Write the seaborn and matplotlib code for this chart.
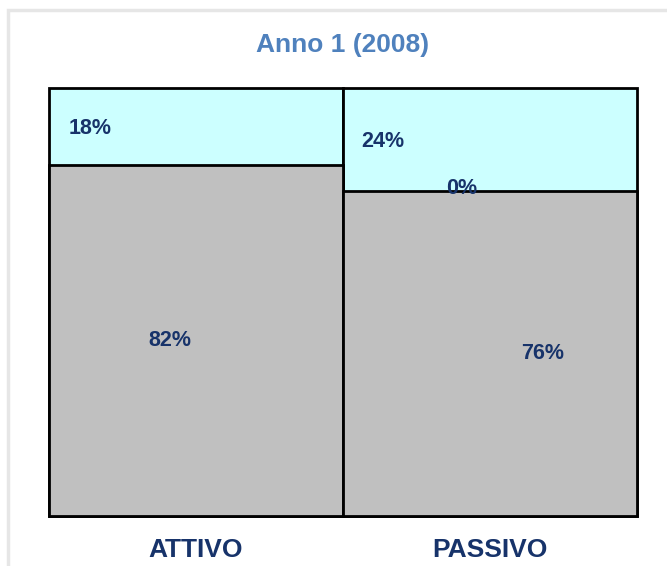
import matplotlib
matplotlib.use("Agg")
import matplotlib.pyplot as plt
import seaborn as sns
import pandas as pd
from matplotlib.patches import Rectangle

categories = ["ATTIVO", "PASSIVO"]
bottom_vals = [82, 76]      # grey segment
middle_vals = [0, 0]        # zero segment (only labelled on PASSIVO)
top_vals = [18, 24]         # light cyan segment
title = "Anno 1 (2008)"

sns.set_theme(style="white")
plt.rcParams['font.family'] = ['Liberation Sans', 'DejaVu Sans']

navy = "#17336A"
fig = plt.figure(figsize=(6.67, 5.66), dpi=100)
ax = fig.add_axes([49/667, 1-516/566, (637-49)/667, (516-88)/566])

df = pd.DataFrame({
    "cat": categories,
    "bottom": bottom_vals,
    "mid": [b + m for b, m in zip(bottom_vals, middle_vals)],
    "total": [b + m + t for b, m, t in zip(bottom_vals, middle_vals, top_vals)],
})

sns.barplot(data=df, x="cat", y="total", color="#CCFFFF", width=1.0,
            edgecolor="black", linewidth=2.0, saturation=1, ax=ax)
sns.barplot(data=df, x="cat", y="bottom", color="#C0C0C0", width=1.0,
            edgecolor="black", linewidth=2.0, saturation=1, ax=ax)
for p in ax.patches:
    p.set_clip_on(False)

ax.set_xlim(-0.5, 1.5)
ax.set_ylim(0, 100)
for s in ax.spines.values():
    s.set_visible(False)
ax.set_yticks([])
ax.set_xlabel("")
ax.set_ylabel("")
ax.tick_params(axis="x", length=0, pad=16)
for lab in ax.get_xticklabels():
    lab.set_fontsize(19)
    lab.set_fontweight("bold")
    lab.set_color(navy)

# data labels
label_offsets = {
    "bottom": [-0.09, 1.18 - 1],
    "mid": [None, 0.905 - 1],
    "top": [-0.36, 0.636 - 1],
}
for i in range(len(categories)):
    b, m, t = bottom_vals[i], middle_vals[i], top_vals[i]
    kw = dict(ha="center", va="center", fontsize=15.5, fontweight="bold", color=navy)
    ax.text(i + label_offsets["bottom"][i], b / 2, f"{b}%", **kw)
    ax.text(i + label_offsets["top"][i], b + m + t / 2 - 0.5, f"{t}%", **kw)
    if label_offsets["mid"][i] is not None:
        ax.text(i + label_offsets["mid"][i], b + m + 0.5, f"{m}%", **kw)

fig.suptitle(title, x=343/667, y=1-45/566, va="center", fontsize=19,
             fontweight="bold", color="#4F81BD")

# outer light frame
fig.patches.append(Rectangle((8/667, -0.1), 1.2, 1 - 10/566 + 0.1,
                             transform=fig.transFigure, fill=False,
                             edgecolor="#E6E6E6", linewidth=2.5))

fig.savefig("out.png", dpi=100)
